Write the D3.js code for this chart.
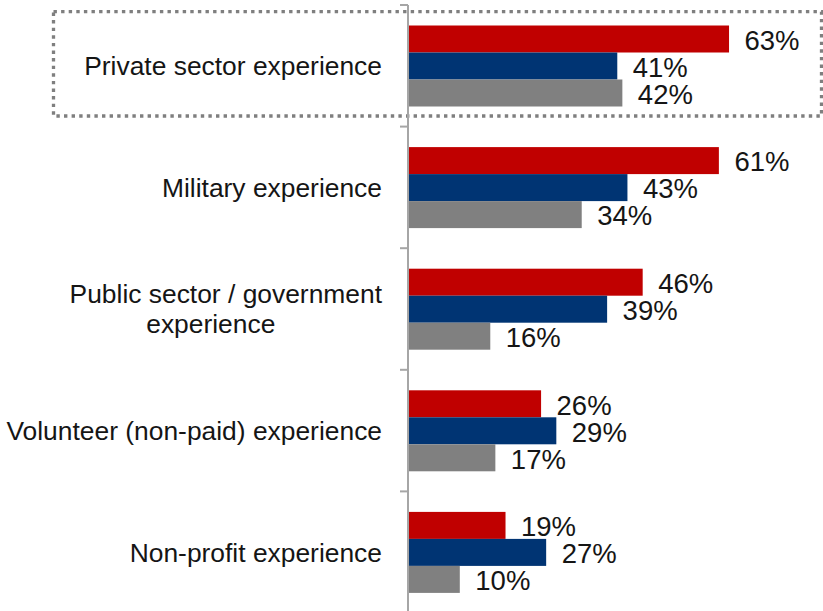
<!DOCTYPE html>
<html>
<head>
<meta charset="utf-8">
<script src="https://cdn.jsdelivr.net/npm/d3@7"></script>
<style>
  html, body { margin: 0; padding: 0; background: #fff; }
  svg { display: block; }
  text { font-family: "Liberation Sans", Arial, sans-serif; fill: #151515; }
</style>
</head>
<body>
<svg id="chart" width="823" height="611"></svg>
<script>
// Kinds of experience asked about (top to bottom)
const categories = [
  ["Private sector experience"],
  ["Military experience"],
  ["Public sector / government", "experience"],
  ["Volunteer (non-paid) experience"],
  ["Non-profit experience"]
];

// Share of each group rating the experience important (%)
const seriesNames = ["Republicans", "Democrats", "Independents"];
const republicans  = [63, 61, 46, 26, 19];
const democrats    = [41, 43, 39, 29, 27];
const independents = [42, 34, 16, 17, 10];
const seriesValues = [republicans, democrats, independents];
const seriesColors = ["#c00000", "#003473", "#808080"];

const svg = d3.select("#chart");
const width = 823, height = 611;

const axisX = 409;
const catKeys = categories.map(c => c.join(" "));

const y = d3.scaleBand()
  .domain(catKeys)
  .range([5, 613]);

const inner = d3.scaleBand()
  .domain(seriesNames)
  .range([20.5, 101.5]);

const x = d3.scaleLinear()
  .domain([0, 100])
  .range([axisX, axisX + 508]);

// Highlight frame around the first category
svg.append("rect")
  .attr("x", 53.5)
  .attr("y", 11.7)
  .attr("width", 768)
  .attr("height", 104.3)
  .attr("fill", "none")
  .attr("stroke", "#7f7f7f")
  .attr("stroke-width", 3.3)
  .attr("stroke-dasharray", "3.4 4.2");

// Bars
const rows = categories.map((c, i) => ({
  key: catKeys[i],
  lines: c,
  values: seriesNames.map((s, j) => ({ series: s, value: seriesValues[j][i], color: seriesColors[j] }))
}));

const groups = svg.append("g").selectAll("g")
  .data(rows)
  .join("g")
  .attr("transform", d => `translate(0,${y(d.key)})`);

groups.selectAll("rect")
  .data(d => d.values)
  .join("rect")
  .attr("x", x(0))
  .attr("y", d => inner(d.series))
  .attr("width", d => x(d.value) - x(0))
  .attr("height", inner.bandwidth())
  .attr("fill", d => d.color);

// Value labels
groups.selectAll("text.val")
  .data(d => d.values)
  .join("text")
  .attr("class", "val")
  .attr("x", d => x(d.value) + 15.5)
  .attr("y", d => inner(d.series) + inner.bandwidth() / 2 + 10.8)
  .attr("font-size", 27.5)
  .text(d => d.value + "%");

// Vertical axis with ticks at the category boundaries
const axisG = svg.append("g");
axisG.append("line")
  .attr("x1", axisX - 1).attr("x2", axisX - 1)
  .attr("y1", y.range()[0]).attr("y2", height)
  .attr("stroke", "#a6a6a6").attr("stroke-width", 2);

const boundaries = catKeys.map(k => y(k)).concat([y.range()[1]]);
axisG.selectAll("line.tick")
  .data(boundaries)
  .join("line")
  .attr("class", "tick")
  .attr("x1", axisX - 9).attr("x2", axisX - 1)
  .attr("y1", d => d).attr("y2", d => d)
  .attr("stroke", "#a6a6a6").attr("stroke-width", 2);

// Category labels
const labelRight = 382;
const lineHeight = 30;
const labels = svg.append("g").selectAll("text.cat")
  .data(rows)
  .join("text")
  .attr("class", "cat")
  .attr("font-size", 26.4);

labels.each(function(d) {
  const t = d3.select(this);
  const mid = y(d.key) + y.bandwidth() / 2;
  const n = d.lines.length;
  const first = mid - (n - 1) * lineHeight / 2 + 9.4;
  if (n === 1) {
    t.attr("text-anchor", "end")
      .attr("x", labelRight)
      .attr("y", first)
      .text(d.lines[0]);
  } else {
    const l1 = t.append("tspan")
      .attr("text-anchor", "end")
      .attr("x", labelRight)
      .attr("y", first)
      .text(d.lines[0]);
    const w1 = l1.node().getComputedTextLength();
    const center = labelRight - w1 / 2 - 15;
    d.lines.slice(1).forEach((ln, k) => {
      t.append("tspan")
        .attr("text-anchor", "middle")
        .attr("x", center)
        .attr("y", first + (k + 1) * lineHeight)
        .text(ln);
    });
  }
});
</script>
</body>
</html>
